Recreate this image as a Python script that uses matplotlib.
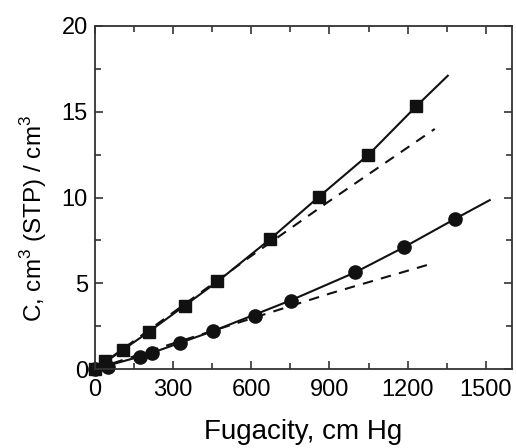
import matplotlib.pyplot as plt
import numpy as np

plt.rcParams['font.family'] = ['Liberation Sans', 'DejaVu Sans']
plt.rcParams['mathtext.fontset'] = 'custom'
plt.rcParams['mathtext.rm'] = 'Liberation Sans'

# measured points (squares)
sq_x = [0, 38, 107, 207, 345, 468, 671, 861, 1049, 1233]
sq_y = [0, 0.47, 1.1, 2.15, 3.67, 5.13, 7.58, 10.05, 12.5, 15.35]
# measured points (circles)
ci_x = [0, 50, 173, 218, 326, 453, 614, 752, 997, 1185, 1381]
ci_y = [0, 0.1, 0.7, 0.93, 1.52, 2.2, 3.1, 4.0, 5.65, 7.1, 8.75]

# fitted curves (solid)
fit_sq_x = [0, 200, 470, 670, 860, 1050, 1235, 1354]
fit_sq_y = [0, 2.1, 5.1, 7.55, 10.05, 12.5, 15.35, 17.1]
fit_ci_x = [0, 200, 450, 750, 1000, 1185, 1381, 1515]
fit_ci_y = [0, 0.85, 2.2, 4.0, 5.65, 7.1, 8.75, 9.85]

# dashed curves
dash_sq_x = [0, 300, 600, 900, 1304]
dash_sq_y = [0, 3.3, 6.6, 9.8, 14.0]
dash_ci_x = [0, 300, 600, 900, 1304]
dash_ci_y = [0, 1.5, 2.95, 4.4, 6.2]

fig = plt.figure(figsize=(5.16, 4.48), dpi=100)
ax = fig.add_axes([0.184, 0.176, 0.808, 0.766])

ax.plot(fit_sq_x, fit_sq_y, '-', color='#111111', lw=1.5)
ax.plot(fit_ci_x, fit_ci_y, '-', color='#111111', lw=1.5)
ax.plot(dash_sq_x, dash_sq_y, '--', color='#111111', lw=1.5, dashes=(5, 4))
ax.plot(dash_ci_x, dash_ci_y, '--', color='#111111', lw=1.5, dashes=(5, 4))
ax.plot(sq_x, sq_y, 's', color='#111111', ms=9, clip_on=False)
ax.plot(ci_x, ci_y, 'o', color='#111111', ms=9.5, clip_on=False)

ax.set_xlim(0, 1600)
ax.set_ylim(0, 20)
ax.set_xticks([0, 300, 600, 900, 1200, 1500])
ax.set_xticks(np.arange(150, 1600, 300), minor=True)
ax.set_yticks([0, 5, 10, 15, 20])
ax.set_yticks(np.arange(2.5, 20, 5), minor=True)
ax.tick_params(which='both', direction='in', top=True, right=True,
               labelsize=17, color='#333333', width=1.2)
ax.tick_params(axis='x', pad=7)
ax.tick_params(axis='y', pad=5)
ax.tick_params(which='major', length=6)
ax.tick_params(which='minor', length=4)
for s in ax.spines.values():
    s.set_linewidth(1.3)
    s.set_color('#333333')

ax.set_xlabel('Fugacity, cm Hg', fontsize=20)
ax.set_ylabel(r'C, cm$^3$ (STP) / cm$^3$', fontsize=17.5)
ax.xaxis.set_label_coords(0.5, -0.145)
ax.yaxis.set_label_coords(-0.11, 0.44)

fig.savefig('out.png', dpi=100)
